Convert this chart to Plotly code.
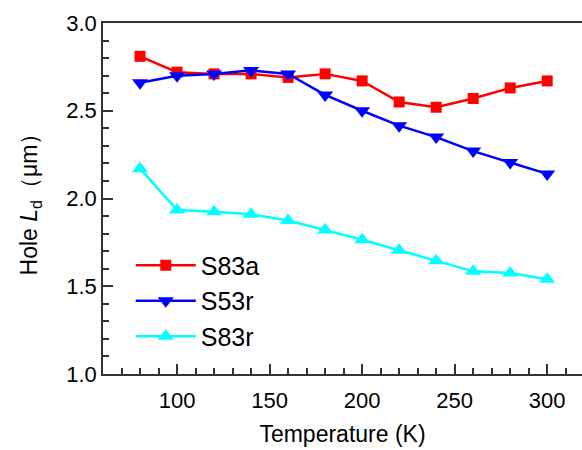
import plotly.graph_objects as go

temps = [80, 100, 120, 140, 160, 180, 200, 220, 240, 260, 280, 300]
s83a = [2.81, 2.72, 2.71, 2.71, 2.69, 2.71, 2.67, 2.55, 2.52, 2.57, 2.63, 2.67]
s53r = [2.66, 2.70, 2.71, 2.73, 2.71, 2.59, 2.50, 2.415, 2.35, 2.27, 2.205, 2.14]
s83r = [2.17, 1.935, 1.925, 1.91, 1.875, 1.82, 1.765, 1.705, 1.645, 1.585, 1.575, 1.54]

series = [
    ("S83a", s83a, "#FF0000", "square", 11),
    ("S53r", s53r, "#0000FF", "triangle-down", 14),
    ("S83r", s83r, "#00FFFF", "triangle-up", 14),
]

fig = go.Figure()
for name, vals, color, sym, size in series:
    fig.add_trace(go.Scatter(
        x=temps, y=vals, name=name, mode="lines+markers",
        line=dict(color=color, width=2.5),
        marker=dict(symbol=sym, size=size, color=color, line=dict(width=0)),
    ))

font = "Liberation Sans, Arial, sans-serif"
axis_col = "#333333"
fig.update_layout(
    width=582, height=450,
    margin=dict(l=103, r=0, t=23, b=76),
    paper_bgcolor="white", plot_bgcolor="white",
    font=dict(family=font, size=22, color="black"),
    showlegend=True,
    legend=dict(x=0.058, y=0.375, xanchor="left", yanchor="top",
                font=dict(size=25, family=font, color="black"),
                bgcolor="rgba(0,0,0,0)", tracegroupgap=0, itemwidth=60),
    xaxis=dict(
        range=[60, 318.8], showgrid=False, zeroline=False,
        showline=True, linecolor=axis_col, linewidth=1.5, mirror=True,
        ticks="inside", ticklen=10, tickwidth=1.5, tickcolor=axis_col,
        tickmode="array", tickvals=[100, 150, 200, 250, 300],
        minor=dict(ticks="inside", ticklen=6, tickwidth=1.5, tickcolor=axis_col, dtick=10, tick0=0),
        tickfont=dict(size=22), ticklabelstandoff=6,
        title=dict(text="Temperature (K)", font=dict(size=23), standoff=14),
    ),
    yaxis=dict(
        range=[1.0, 3.0], showgrid=False, zeroline=False,
        showline=True, linecolor=axis_col, linewidth=1.5,
        ticks="inside", ticklen=10, tickwidth=1.5, tickcolor=axis_col,
        tickmode="array", tickvals=[1.0, 1.5, 2.0, 2.5, 3.0], ticktext=["1.0", "1.5", "2.0", "2.5", "3.0"],
        minor=dict(ticks="inside", ticklen=6, tickwidth=1.5, tickcolor=axis_col, dtick=0.1, tick0=0),
        tickfont=dict(size=22),
        title=dict(text="Hole <i>L</i><sub>d</sub>（μm）", font=dict(size=23), standoff=22),
    ),
)

fig.write_html("out.html")
